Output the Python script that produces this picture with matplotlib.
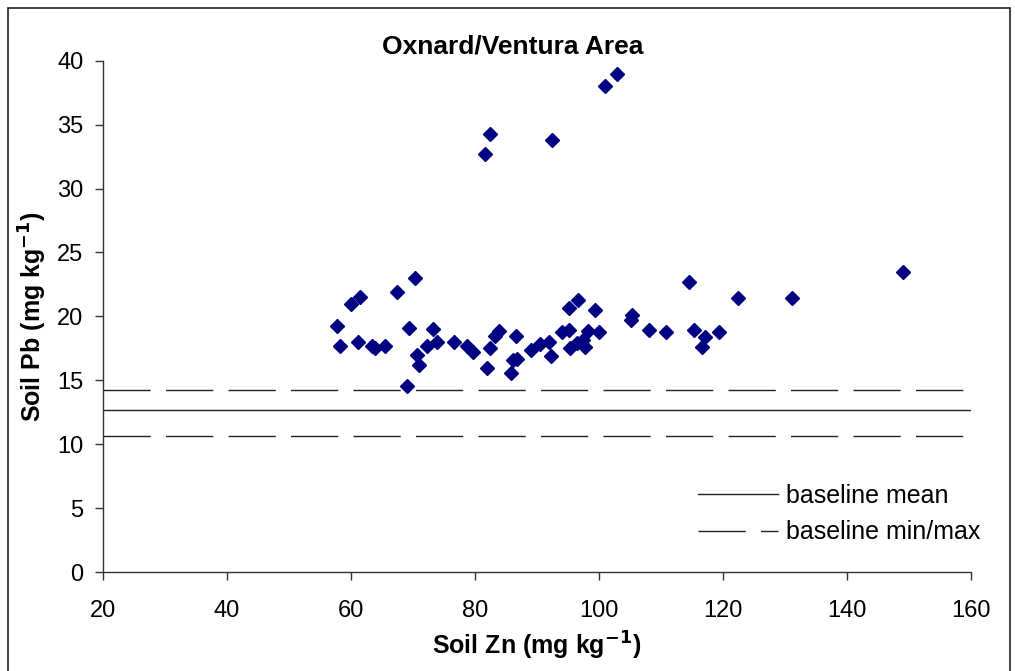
import numpy as np
import matplotlib.pyplot as plt
from matplotlib.patches import Rectangle

plt.rcParams['font.family'] = ['Liberation Sans', 'DejaVu Sans']

# soil Zn / Pb pairs (mg kg-1)
zn = [57.7, 58.3, 60.0, 61.5, 61.2, 63.4, 63.8, 65.5, 67.4, 70.3,
      69.3, 69.0, 70.6, 71.0, 72.2, 73.2, 73.9, 76.7, 78.7, 79.7,
      81.9, 82.5, 83.2, 83.9, 85.8, 86.1, 86.8, 86.7, 89.0, 90.5,
      92.0, 92.2, 94.1, 95.2, 95.1, 96.7, 95.4, 96.4, 97.5, 97.7,
      98.3, 99.3, 100.0, 105.1, 105.4, 108.0, 110.9, 114.5, 115.4, 117.1,
      116.7, 119.3, 122.5, 131.2, 149.0, 102.9, 101.0, 92.5, 82.5, 81.6]
pb = [19.25, 17.7, 21.0, 21.5, 18.0, 17.7, 17.5, 17.7, 21.9, 23.0,
      19.1, 14.55, 16.95, 16.2, 17.7, 19.0, 18.0, 18.0, 17.7, 17.2,
      15.95, 17.5, 18.5, 18.85, 15.6, 16.6, 16.65, 18.45, 17.4, 17.85,
      18.0, 16.9, 18.8, 18.9, 20.65, 21.3, 17.5, 17.95, 18.15, 17.6,
      18.85, 20.5, 18.8, 19.75, 20.1, 18.95, 18.8, 22.7, 18.95, 18.35,
      17.6, 18.8, 21.45, 21.45, 23.5, 38.95, 38.0, 33.8, 34.3, 32.7]

base_mean = 12.68
base_min = 10.64
base_max = 14.24

fig = plt.figure(figsize=(10.15, 6.71), dpi=100)
ax = fig.add_axes([0.1015, 0.1475, 0.855, 0.762])

ax.plot(zn, pb, 'D', color='#000080', markersize=7, linestyle='none', zorder=3)

ax.plot([20, 160], [base_mean, base_mean], color='#222222', lw=1,
        label='baseline mean')
ax.plot([20, 160], [base_max, base_max], color='#222222', lw=1,
        dashes=(34, 11), label='baseline min/max')
ax.plot([20, 160], [base_min, base_min], color='#222222', lw=1,
        dashes=(34, 11))

ax.set_xlim(20, 160)
ax.set_ylim(0, 40)
ax.set_xticks(np.arange(20, 161, 20))
ax.set_yticks(np.arange(0, 41, 5))
ax.spines['top'].set_visible(False)
ax.spines['right'].set_visible(False)
for s in ['left', 'bottom']:
    ax.spines[s].set_color('#333333')
    ax.spines[s].set_linewidth(1)
ax.tick_params(direction='out', length=6, width=1, color='#333333',
               labelsize=17, pad=8)
ax.tick_params(axis='x', pad=14)

ax.set_xlabel('Soil Zn (mg kg$^{\\mathbf{-1}}$)', fontsize=18, fontweight='bold',
              labelpad=6)
ax.set_ylabel('Soil Pb (mg kg$^{\\mathbf{-1}}$)', fontsize=18, fontweight='bold',
              labelpad=6)
fig.text(0.505, 0.931, 'Oxnard/Ventura Area', ha='center', va='center',
         fontsize=19, fontweight='bold')

leg = ax.legend(loc='upper left', bbox_to_anchor=(0.6715, 0.197),
                frameon=False, fontsize=18, handlelength=3.2,
                handletextpad=0.32, labelspacing=0.5, borderpad=0)

# outer frame of the figure
fig.patches.append(Rectangle((8 / 1015, -0.05), 1002 / 1015, 1.05 - 8 / 671,
                             transform=fig.transFigure, fill=False,
                             edgecolor='#222222', lw=1.2))

fig.savefig('out.png', dpi=100)
